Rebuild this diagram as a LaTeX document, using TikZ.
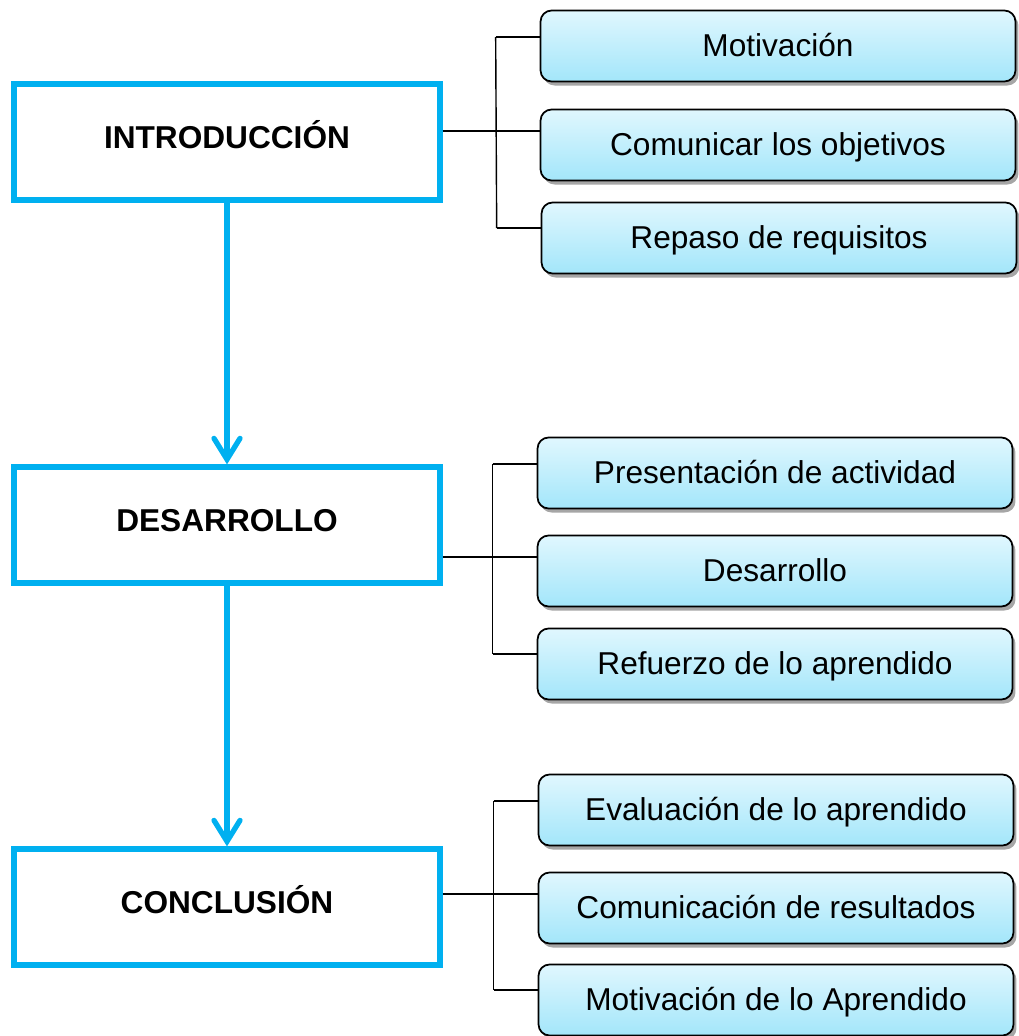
\documentclass[tikz,border=0pt]{standalone}
\usepackage{fontspec}
\setmainfont{Liberation Sans}
\usetikzlibrary{arrows.meta,shadows}

\definecolor{azul}{HTML}{00B0F0}
\definecolor{celestearriba}{HTML}{E0F7FE}
\definecolor{celesteabajo}{HTML}{A3E6FA}

\tikzset{
    fase/.style={draw=azul, line width=3pt, minimum width=8.52cm, minimum height=2.32cm,
        font=\fontsize{18}{22}\selectfont\bfseries, text height=0.46cm, text depth=0.22cm},
    tarea/.style={draw=black, line width=1pt, rounded corners=0.22cm,
        top color=celestearriba, bottom color=celesteabajo,
        minimum width=9.5cm, minimum height=1.42cm,
        font=\fontsize{18}{22}\selectfont, text height=0.46cm, text depth=0.04cm,
        drop shadow={shadow xshift=0.06cm, shadow yshift=-0.08cm, opacity=0.35, fill=black}},
    flecha/.style={azul, line width=3pt, -{Straight Barb[length=0.42cm, width=0.52cm, line cap=round]}},
    rama/.style={black, line width=0.8pt}
}

\begin{document}
\begin{tikzpicture}[x=0.02cm, y=-0.02cm]
    \useasboundingbox (0,0) rectangle (1019,1036);

    % Fases
    \node[fase] (intro) at (227,142) {INTRODUCCIÓN};
    \node[fase] (des)   at (227,525) {DESARROLLO};
    \node[fase] (conc)  at (227,907) {CONCLUSIÓN};

    % Flechas entre fases
    \draw[flecha] (intro.south) -- (des.north);
    \draw[flecha] (des.south) -- (conc.north);

    % Actividades de cada fase
    \node[tarea] (mot) at (778,46)   {Motivación};
    \node[tarea] (com) at (778,145)  {Comunicar los objetivos};
    \node[tarea] (rep) at (779,238)  {Repaso de requisitos};

    \node[tarea] (pre) at (775,473)  {Presentación de actividad};
    \node[tarea] (dsr) at (775,571)  {Desarrollo};
    \node[tarea] (ref) at (775,664)  {Refuerzo de lo aprendido};

    \node[tarea] (eva) at (776,810)  {Evaluación de lo aprendido};
    \node[tarea] (cmr) at (776,908)  {Comunicación de resultados};
    \node[tarea] (mda) at (776,1000) {Motivación de lo Aprendido};

    % Llaves
    \foreach \g/\a/\b/\c in {intro/mot/com/rep, des/pre/dsr/ref, conc/eva/cmr/mda} {
        \foreach \t/\dy in {\a/0.18, \b/0.28, \c/0.2} {
            \coordinate (k-\t) at ([xshift=-0.88cm, yshift=\dy cm]\t.west);
            \draw[rama] (k-\t) -- ([yshift=\dy cm]\t.west);
        }
        \draw[rama] (k-\a) -- (k-\c);
        \draw[rama] (\g.east |- k-\b) -- (k-\b);
    }
\end{tikzpicture}
\end{document}
